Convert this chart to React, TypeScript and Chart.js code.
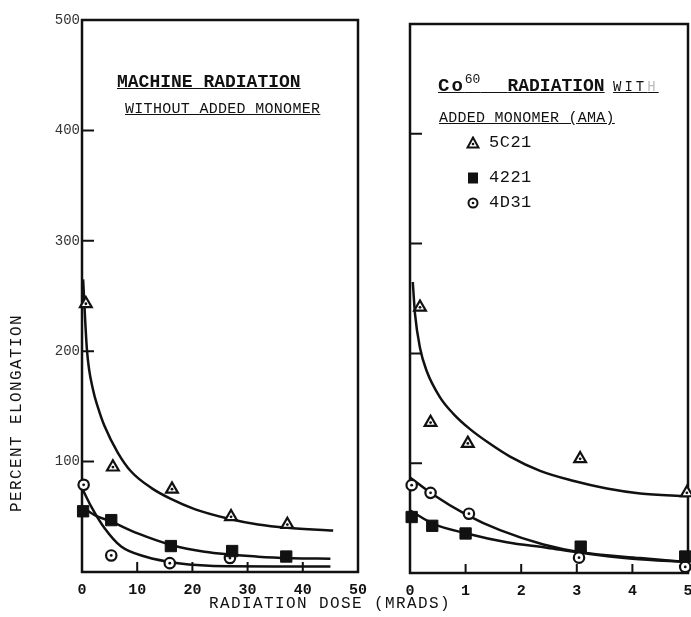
import React, { useEffect, useRef } from "react";
import { Chart, registerables } from "chart.js";
Chart.register(...registerables);

// ---------- tick labels ----------
const elongTicks = [0, 100, 200, 300, 400, 500];
const machineDoseTicks = [0, 10, 20, 30, 40, 50];
const coDoseTicks = [0, 1, 2, 3, 4, 5];

// ---------- left panel: machine radiation, without added monomer ----------
const machineDose5C21 = [0.7, 5.6, 16.3, 27, 37.2];
const machineElong5C21 = [243, 95, 75, 50, 43];
const machineDose4221 = [0.2, 5.3, 16.1, 27.2, 37];
const machineElong4221 = [55, 47, 23.5, 19, 14];
const machineDose4D31 = [0.3, 5.3, 15.9, 26.8];
const machineElong4D31 = [79, 15, 8, 12.7];

const machineCurve5C21X = [0.2, 0.9, 2.0, 2.9, 4.1, 6.5, 8.9, 12.6, 16.2, 20.4, 26.4, 31.9, 37.2, 45.5];
const machineCurve5C21Y = [265, 201, 165, 149, 132, 108, 91, 76, 66, 57, 48.5, 43, 40, 37.5];
const machineCurve4221X = [0, 2.3, 5.3, 10.1, 16.2, 22.2, 31.9, 38, 45];
const machineCurve4221Y = [59, 51.6, 45.6, 35, 24.5, 18.4, 13.9, 12.5, 12];
const machineCurve4D31X = [0.2, 1.7, 4.1, 7.1, 11.4, 17.4, 26.4, 35, 45];
const machineCurve4D31Y = [74, 59, 39.6, 23, 14, 8, 5.2, 5, 5];

// ---------- right panel: Co60 radiation with added monomer ----------
const coDose5C21 = [0.18, 0.37, 1.04, 3.06, 4.98];
const coElong5C21 = [242, 137, 118, 104, 73];
const coDose4221 = [0.03, 0.4, 1.0, 3.07, 4.95];
const coElong4221 = [51, 43, 36, 24, 15];
const coDose4D31 = [0.03, 0.37, 1.06, 3.04, 4.95];
const coElong4D31 = [80, 73, 54, 14, 5.5];

const coCurve5C21X = [0.05, 0.09, 0.18, 0.3, 0.54, 0.78, 1.08, 1.4, 1.8, 2.34, 2.93, 3.54, 4.14, 4.98];
const coCurve5C21Y = [265, 236, 205, 184, 160, 145, 131, 119, 106, 93, 84, 77, 72.5, 70];
const coCurve4221X = [0, 0.41, 1.02, 1.74, 2.46, 3.06, 4.0, 4.98];
const coCurve4221Y = [57, 45, 36, 28, 23, 18.5, 13, 10];
const coCurve4D31X = [0, 0.4, 1.02, 1.62, 2.4, 3.06, 4.14, 4.98];
const coCurve4D31Y = [87, 72, 53, 39, 26, 19, 13.6, 10];

const INK = "#111";
const MONO = "'Liberation Mono', 'Courier New', monospace";

function zip(xs: number[], ys: number[]) {
  return xs.map((x, i) => ({ x, y: ys[i] }));
}

const framePlugin = {
  id: "frame",
  beforeDatasetsDraw(chart: any, _args: any, opts: any) {
    const { ctx, chartArea: a, scales } = chart;
    ctx.save();
    ctx.strokeStyle = INK;
    ctx.lineWidth = 2.5;
    ctx.strokeRect(a.left, a.top, a.right - a.left, a.bottom - a.top);
    ctx.lineWidth = 2;
    ctx.beginPath();
    const yt: number[] = opts.yTicks || [];
    yt.slice(1, -1).forEach((v) => {
      const y = scales.y.getPixelForValue(v);
      ctx.moveTo(a.left, y);
      ctx.lineTo(a.left + opts.yLen, y);
    });
    const xt: number[] = opts.xTicks || [];
    xt.slice(1, -1).forEach((v) => {
      const x = scales.x.getPixelForValue(v);
      ctx.moveTo(x, a.bottom);
      ctx.lineTo(x, a.bottom - opts.xLen);
    });
    ctx.stroke();
    ctx.restore();
  },
  afterDatasetsDraw(chart: any) {
    const { ctx } = chart;
    ctx.save();
    ctx.fillStyle = INK;
    chart.data.datasets.forEach((ds: any, i: number) => {
      if (!ds.centerDot) return;
      chart.getDatasetMeta(i).data.forEach((pt: any) => {
        ctx.beginPath();
        ctx.arc(pt.x, pt.y, 1.4, 0, Math.PI * 2);
        ctx.fill();
      });
    });
    ctx.restore();
  },
};

function markerSets(d1: number[], e1: number[], d2: number[], e2: number[], d3: number[], e3: number[]) {
  return [
    {
      label: "5C21",
      data: zip(d1, e1),
      showLine: false,
      pointStyle: "triangle",
      pointRadius: 6.8,
      pointBackgroundColor: "#fff",
      pointBorderColor: INK,
      pointBorderWidth: 2.2,
      centerDot: true,
      clip: false,
    },
    {
      label: "4221",
      data: zip(d2, e2),
      showLine: false,
      pointStyle: "rect",
      pointRadius: 8,
      pointBackgroundColor: INK,
      pointBorderColor: INK,
      pointBorderWidth: 1,
      clip: false,
    },
    {
      label: "4D31",
      data: zip(d3, e3),
      showLine: false,
      pointStyle: "circle",
      pointRadius: 5.2,
      pointBackgroundColor: "#fff",
      pointBorderColor: INK,
      pointBorderWidth: 2.2,
      centerDot: true,
      clip: false,
    },
  ];
}

function curveSet(label: string, xs: number[], ys: number[]) {
  return {
    label,
    data: zip(xs, ys),
    showLine: true,
    pointRadius: 0,
    pointHitRadius: 0,
    borderColor: INK,
    borderWidth: 2.5,
    cubicInterpolationMode: "monotone",
    fill: false,
  };
}

function makeConfig(p: {
  datasets: any[];
  xMax: number;
  xTicks: number[];
  yWidth: number;
  xHeight: number;
  top: number;
  right: number;
  showY: boolean;
  yLen: number;
  xLen: number;
}) {
  return {
    type: "line",
    data: { datasets: p.datasets },
    options: {
      responsive: false,
      animation: false,
      events: [],
      layout: { autoPadding: false, padding: { top: p.top, right: p.right, left: 0, bottom: 0 } },
      plugins: {
        legend: { display: false },
        tooltip: { enabled: false },
        frame: { yTicks: elongTicks, xTicks: p.xTicks, yLen: p.yLen, xLen: p.xLen },
      },
      scales: {
        x: {
          type: "linear",
          min: 0,
          max: p.xMax,
          grid: { display: false, drawTicks: false },
          border: { display: false },
          ticks: {
            autoSkip: false,
            maxRotation: 0,
            padding: 9,
            color: INK,
            font: { family: MONO, size: 15, weight: "bold" },
          },
          afterBuildTicks: (s: any) => {
            s.ticks = p.xTicks.map((v) => ({ value: v }));
          },
          afterFit: (s: any) => {
            s.height = p.xHeight;
            s.paddingLeft = 0;
            s.paddingRight = 0;
          },
        },
        y: {
          type: "linear",
          min: 0,
          max: 500,
          grid: { display: false, drawTicks: false },
          border: { display: false },
          ticks: {
            display: p.showY,
            padding: 2,
            color: "#333",
            font: { family: MONO, size: 14 },
            callback: (v: any) => (v === 0 ? "" : String(v)),
          },
          afterBuildTicks: (s: any) => {
            s.ticks = elongTicks.map((v) => ({ value: v }));
          },
          afterFit: (s: any) => {
            s.width = p.yWidth;
            s.paddingTop = 0;
            s.paddingBottom = 0;
          },
        },
      },
    },
    plugins: [framePlugin],
  };
}

function Marker({ kind }: { kind: string }) {
  if (kind === "tri")
    return (
      <svg width="14" height="14" viewBox="0 0 14 14">
        <polygon points="7,1.5 12.5,11.5 1.5,11.5" fill="#fff" stroke={INK} strokeWidth="2" />
        <circle cx="7" cy="8" r="1.3" fill={INK} />
      </svg>
    );
  if (kind === "sq")
    return (
      <svg width="14" height="14" viewBox="0 0 14 14">
        <rect x="2" y="1.5" width="10" height="11" fill={INK} />
      </svg>
    );
  return (
    <svg width="14" height="14" viewBox="0 0 14 14">
      <circle cx="7" cy="7" r="4.5" fill="#fff" stroke={INK} strokeWidth="2" />
      <circle cx="7" cy="7" r="1.3" fill={INK} />
    </svg>
  );
}

const legendItems = [
  { kind: "tri", label: "5C21", y: 142 },
  { kind: "sq", label: "4221", y: 177 },
  { kind: "circ", label: "4D31", y: 202 },
];

export default function App() {
  const leftRef = useRef<HTMLCanvasElement>(null);
  const rightRef = useRef<HTMLCanvasElement>(null);

  useEffect(() => {
    const left = new Chart(
      leftRef.current as any,
      makeConfig({
        datasets: [
          ...markerSets(machineDose5C21, machineElong5C21, machineDose4221, machineElong4221, machineDose4D31, machineElong4D31),
          curveSet("5C21 fit", machineCurve5C21X, machineCurve5C21Y),
          curveSet("4221 fit", machineCurve4221X, machineCurve4221Y),
          curveSet("4D31 fit", machineCurve4D31X, machineCurve4D31Y),
        ],
        xMax: 50,
        xTicks: machineDoseTicks,
        yWidth: 82,
        xHeight: 45,
        top: 20,
        right: 16,
        showY: true,
        yLen: 12,
        xLen: 10,
      }) as any
    );
    const right = new Chart(
      rightRef.current as any,
      makeConfig({
        datasets: [
          ...markerSets(coDose5C21, coElong5C21, coDose4221, coElong4221, coDose4D31, coElong4D31),
          curveSet("5C21 fit", coCurve5C21X, coCurve5C21Y),
          curveSet("4221 fit", coCurve4221X, coCurve4221Y),
          curveSet("4D31 fit", coCurve4D31X, coCurve4D31Y),
        ],
        xMax: 5,
        xTicks: coDoseTicks,
        yWidth: 48,
        xHeight: 44,
        top: 24,
        right: 3,
        showY: false,
        yLen: 12,
        xLen: 9,
      }) as any
    );
    return () => {
      left.destroy();
      right.destroy();
    };
  }, []);

  const txt: React.CSSProperties = {
    position: "absolute",
    fontFamily: MONO,
    color: INK,
    whiteSpace: "pre",
    lineHeight: 1,
  };

  return (
    <div style={{ position: "absolute", left: 0, top: 0, width: 691, height: 617, overflow: "hidden", background: "#fff" }}>
      <canvas ref={leftRef} width={374} height={617} style={{ position: "absolute", left: 0, top: 0 }} />
      <canvas ref={rightRef} width={329} height={617} style={{ position: "absolute", left: 362, top: 0 }} />

      {/* left panel titles */}
      <div style={{ ...txt, left: 117, top: 73, fontSize: 18, fontWeight: "bold", textDecoration: "underline" }}>MACHINE RADIATION</div>
      <div style={{ ...txt, left: 125, top: 102, fontSize: 15, letterSpacing: 0.3, textDecoration: "underline" }}>WITHOUT ADDED MONOMER</div>

      {/* right panel titles */}
      <div style={{ ...txt, left: 438, top: 77 }}>
        <span style={{ textDecoration: "underline", fontWeight: "bold" }}>
          <span style={{ fontSize: 19, letterSpacing: 2 }}>Co</span>
          <span style={{ fontSize: 13, fontWeight: "normal", position: "relative", top: -8 }}>60</span>
          <span style={{ fontSize: 15 }}>{"   "}</span>
          <span style={{ fontSize: 18 }}>RADIATION</span>
        </span>
        <span style={{ fontSize: 14 }}> </span>
        <span style={{ fontSize: 14, letterSpacing: 3, textDecoration: "underline" }}>
          WIT<span style={{ color: "#bbb" }}>H</span>
        </span>
      </div>
      <div style={{ ...txt, left: 439, top: 111, fontSize: 15, letterSpacing: 0.25, textDecoration: "underline" }}>ADDED MONOMER (AMA)</div>

      {/* legend */}
      {legendItems.map((it) => (
        <div key={it.label} style={{ ...txt, left: 466, top: it.y - 8, fontSize: 17, letterSpacing: 0.5, display: "flex", alignItems: "center", gap: 9 }}>
          <Marker kind={it.kind} />
          <span>{it.label}</span>
        </div>
      ))}

      {/* axis titles */}
      <div
        style={{
          ...txt,
          left: 17,
          top: 413,
          fontSize: 16,
          letterSpacing: 1.4,
          transform: "translate(-50%, -50%) rotate(-90deg)",
        }}
      >
        PERCENT ELONGATION
      </div>
      <div style={{ ...txt, left: 330, top: 604, fontSize: 16, letterSpacing: 1.4, transform: "translate(-50%, -50%)" }}>
        RADIATION DOSE (MRADS)
      </div>
    </div>
  );
}
